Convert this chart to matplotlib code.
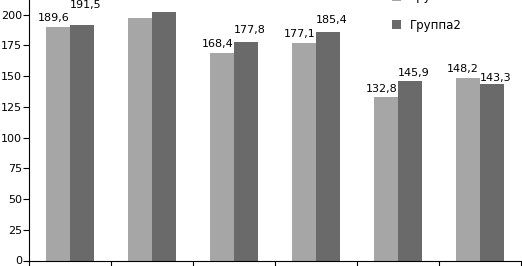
import numpy as np
import matplotlib
matplotlib.use('Agg')
import matplotlib.pyplot as plt

# values (group 2 labels are cut off at the top)
categories = ['1', '2', '3', '4', '5', '6']
group1 = [189.6, 197.4, 168.4, 177.1, 132.8, 148.2]
group2 = [191.5, 202.1, 177.8, 185.4, 145.9, 143.3]
series_names = ['Группа1', 'Группа2']
yticks = [0, 25, 50, 75, 100, 125, 150, 175, 200]

light = '#a6a6a6'
dark = '#6a6a6a'

plt.rcParams['font.family'] = ['DejaVu Sans']
plt.rcParams['font.size'] = 8

fig = plt.figure(figsize=(5.22, 2.66), dpi=100)
W, H = 522, 266
ax = fig.add_axes([29 / W, 5.5 / H, 492 / W, 260.5 / H])

x = np.arange(len(categories))
w = 0.287
b1 = ax.bar(x - w / 2, group1, w, color=light, label=series_names[0])
b2 = ax.bar(x + w / 2, group2, w, color=dark, label=series_names[1])

# data labels, nudged apart like the original; the second group's labels
# sit above the cropped top of the source picture, so they are left out
dy1 = [4, 4, 4, 4, 3, 4]
dy2 = [15, 8, 7, 7, 3, 1]
for i in range(len(categories)):
    if i == 1:
        continue
    ax.annotate(f'{group1[i]:.1f}'.replace('.', ','), (x[i] - w / 2, group1[i]),
                xytext=(-5, dy1[i]), textcoords='offset pixels',
                ha='center', va='bottom', fontsize=8, annotation_clip=False)
    ax.annotate(f'{group2[i]:.1f}'.replace('.', ','), (x[i] + w / 2, group2[i]),
                xytext=(4, dy2[i]), textcoords='offset pixels',
                ha='center', va='bottom', fontsize=8, annotation_clip=False)

ax.set_xlim(-0.5, len(categories) - 0.5)
ax.set_ylim(0, 211.8)
ax.set_yticks(yticks)
ax.set_xticks(np.arange(len(categories) + 1) - 0.5)
ax.set_xticklabels([])
ax.tick_params(axis='x', direction='out', length=6, width=0.8)
ax.tick_params(axis='y', direction='out', length=4, width=0.8, pad=1)

for s in ['top', 'right']:
    ax.spines[s].set_visible(False)
for s in ['left', 'bottom']:
    ax.spines[s].set_linewidth(0.8)

ax.legend(loc='center left', bbox_to_anchor=(392 / W, (H - 11) / H),
          bbox_transform=fig.transFigure, frameon=False, borderpad=0,
          borderaxespad=0, handlelength=0.75, handleheight=0.75,
          handletextpad=0.8, labelspacing=1.3, fontsize=8.5)

fig.savefig('out.png', dpi=100)
